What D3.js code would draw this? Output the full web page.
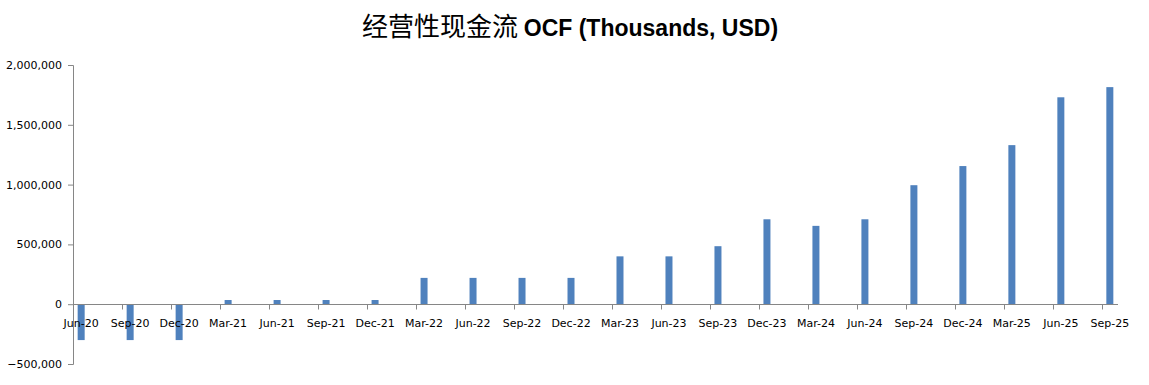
<!DOCTYPE html>
<html>
<head>
<meta charset="utf-8">
<script src="https://cdn.jsdelivr.net/npm/d3@7"></script>
<style>
  body { margin: 0; background: #fff; }
  svg { display: block; }
</style>
</head>
<body>
<script>
// quarter labels and operating cash flow values (thousands USD)
const quarters = ["Jun-20", "Sep-20", "Dec-20", "Mar-21", "Jun-21", "Sep-21", "Dec-21",
    "Mar-22", "Jun-22", "Sep-22", "Dec-22", "Mar-23", "Jun-23", "Sep-23", "Dec-23",
    "Mar-24", "Jun-24", "Sep-24", "Dec-24", "Mar-25", "Jun-25", "Sep-25"];
const ocf = [-300000, -300000, -300000, 35000, 35000, 35000, 35000,
    220000, 220000, 220000, 220000, 400000, 400000, 485000, 710000,
    655000, 710000, 995000, 1155000, 1330000, 1730000, 1815000];
const yTicks = [-500000, 0, 500000, 1000000, 1500000, 2000000];

const W = 1149, H = 385;
const plotLeft = 73, plotRight = 1118, plotTop = 65, plotBottom = 364;

const svg = d3.select("body").append("svg")
    .attr("width", W)
    .attr("height", H);

// title
const title = svg.append("text")
    .attr("x", 570)
    .attr("y", 36)
    .attr("text-anchor", "middle");
title.append("tspan")
    .style("font-family", "'Noto Sans CJK SC'")
    .style("font-size", "26px")
    .text("经营性现金流 ");
title.append("tspan")
    .style("font-family", "'Liberation Sans', Arial, sans-serif")
    .style("font-size", "23px")
    .style("font-weight", "bold")
    .text("OCF (Thousands, USD)");

// date axis in months: each quarter spans 3 months, last one only 1
const nMonths = (quarters.length - 1) * 3 + 1;
const x = d3.scaleLinear().domain([0, nMonths]).range([plotLeft, plotRight]);
const y = d3.scaleLinear().domain([-500000, 2000000]).range([plotBottom, plotTop]);

const axisColor = "#868686";
const labelFont = "'DejaVu Sans', Verdana, sans-serif";

// y axis
const yAxis = svg.append("g")
    .attr("transform", `translate(${plotLeft},0)`)
    .call(d3.axisLeft(y).tickValues(yTicks).tickSize(5).tickPadding(6)
        .tickFormat(d3.format(",")));
yAxis.select(".domain").attr("stroke", axisColor);
yAxis.selectAll(".tick line").attr("stroke", axisColor);
yAxis.selectAll(".tick text")
    .style("font-family", labelFont)
    .style("font-size", "11px")
    .attr("fill", "#000");

// bars
svg.selectAll(".bar")
    .data(ocf)
    .enter()
    .append("rect")
    .attr("class", "bar")
    .attr("x", (d, i) => x(i * 3 + 0.5) - 3.5)
    .attr("width", 7)
    .attr("y", d => y(Math.max(0, d)))
    .attr("height", d => Math.abs(y(d) - y(0)))
    .attr("fill", "#4F81BD");

// x axis on zero line
const xAxis = svg.append("g")
    .attr("transform", `translate(0,${Math.round(y(0)) + 0.5})`);
xAxis.append("line")
    .attr("x1", plotLeft)
    .attr("x2", plotRight)
    .attr("stroke", axisColor);
xAxis.selectAll(".tk")
    .data(quarters)
    .enter()
    .append("line")
    .attr("x1", (d, i) => Math.round(x(i * 3)) + 0.5)
    .attr("x2", (d, i) => Math.round(x(i * 3)) + 0.5)
    .attr("y1", 0)
    .attr("y2", 5)
    .attr("stroke", axisColor);
xAxis.selectAll(".lbl")
    .data(quarters)
    .enter()
    .append("text")
    .attr("x", (d, i) => x(i * 3 + 0.5))
    .attr("y", 22)
    .attr("text-anchor", "middle")
    .style("font-family", labelFont)
    .style("font-size", "11px")
    .text(d => d);
</script>
</body>
</html>
